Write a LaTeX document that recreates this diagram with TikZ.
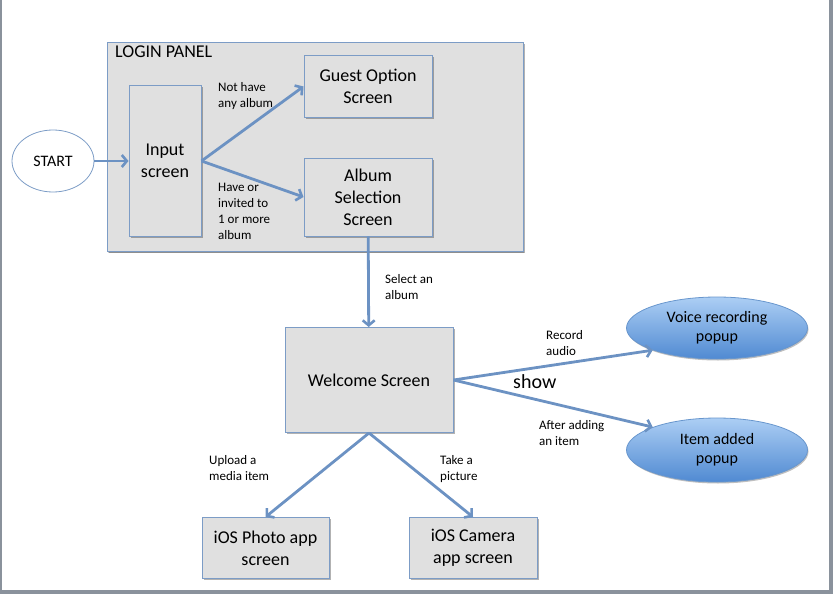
\documentclass[tikz,border=0pt]{standalone}
\usepackage{fontspec}
\setmainfont{Carlito}
\usetikzlibrary{positioning,shapes.geometric,shadows,arrows.meta}
\definecolor{boxfill}{RGB}{224,224,224}
\definecolor{boxline}{RGB}{124,156,198}
\definecolor{flowline}{RGB}{108,146,195}
\definecolor{popuptop}{RGB}{172,206,244}
\definecolor{popupbot}{RGB}{80,138,210}
\definecolor{popupline}{RGB}{104,150,205}
\definecolor{framegray}{RGB}{138,146,156}

\begin{document}
\begin{tikzpicture}[
  x=1pt, y=-1pt,
  screen/.style={rectangle, draw=boxline, fill=boxfill, line width=1pt, align=center,
    font=\fontsize{18}{22}\selectfont,
    drop shadow={shadow xshift=1.5pt, shadow yshift=-1.5pt, opacity=0.3, fill=black}},
  panel/.style={screen, drop shadow={shadow xshift=1pt, shadow yshift=-1.5pt, opacity=0.2, fill=black}},
  popup/.style={ellipse, draw=popupline, line width=0.8pt, top color=popuptop, bottom color=popupbot,
    align=center, font=\fontsize{16}{19}\selectfont,
    drop shadow={shadow xshift=1pt, shadow yshift=-1.5pt, opacity=0.25, fill=black}},
  startnode/.style={ellipse, draw=boxline, fill=white, line width=0.8pt, font=\fontsize{16}{19}\selectfont},
  flow/.style={draw=flowline, line width=2.8pt, -{Straight Barb[length=5pt, width=12pt, line width=2.6pt]}},
  note/.style={anchor=north west, inner sep=0pt, align=left, font=\fontsize{13}{16}\selectfont},
  bigword/.style={anchor=north west, inner sep=0pt, font=\fontsize{20}{24}\selectfont}
]

  \useasboundingbox (0,0) rectangle (833,594);
  \fill[framegray] (0,0) rectangle (2,594);
  \fill[framegray] (829,0) rectangle (833,594);
  \fill[framegray] (0,590) rectangle (833,594);

  \node[panel, minimum width=416pt, minimum height=208pt] (loginpanel) at (315,147) {};
  \node[anchor=base west, inner sep=0pt, font=\fontsize{18}{21}\selectfont] (logintitle) at (115,58) {LOGIN PANEL};

  \node[startnode, minimum width=82pt, minimum height=62pt] (start) at (53,161) {START};
  \node[screen, minimum width=72pt, minimum height=150pt] (input) at (165,161) {Input\\screen};
  \node[screen, minimum width=128pt, minimum height=61pt] (guest) at (368,86.5) {Guest Option\\Screen};
  \node[screen, minimum width=128pt, minimum height=78pt] (album) at (368,197) {Album\\Selection\\Screen};

  \node[screen, minimum width=168pt, minimum height=105pt] (welcome) at (369,380) {Welcome Screen};
  \node[popup, minimum width=181pt, minimum height=62pt] (voice) at (717,328) {Voice recording\\popup};
  \node[popup, minimum width=181pt, minimum height=64pt] (added) at (717,450) {Item added\\popup};

  \node[screen, minimum width=127pt, minimum height=61pt] (photo) at (265.5,548) {iOS Photo app\\screen};
  \node[screen, minimum width=128pt, minimum height=61pt] (camera) at (473,548) {iOS Camera\\app screen};

  \draw[flow] (start) -- (input);
  \draw[flow] (input.east) -- (guest.west);
  \draw[flow] (input.east) -- (album.west);
  \draw[flow] (album) -- (welcome);
  \draw[flow] (welcome.east) -- (voice.south west);
  \draw[flow] (welcome.east) -- (added.north west);
  \draw[flow] (welcome.south) -- (photo.north);
  \draw[flow] (welcome.south) -- (camera.north);

  \node[note] (noalbum) at (218,82) {Not have\\any album};
  \node[note] (hasalbum) at (218,183) {Have or\\invited to\\1 or more\\album};
  \node[note] (selectalbum) at (385,274) {Select an\\album};
  \node[note] (recordaudio) at (546,330) {Record\\audio};
  \node[bigword] (show) at (513,374) {show};
  \node[note] (afteradding) at (539,420) {After adding\\an item};
  \node[note] (uploadmedia) at (209,455) {Upload a\\media item};
  \node[note] (takepicture) at (440,455) {Take a\\picture};

\end{tikzpicture}
\end{document}
